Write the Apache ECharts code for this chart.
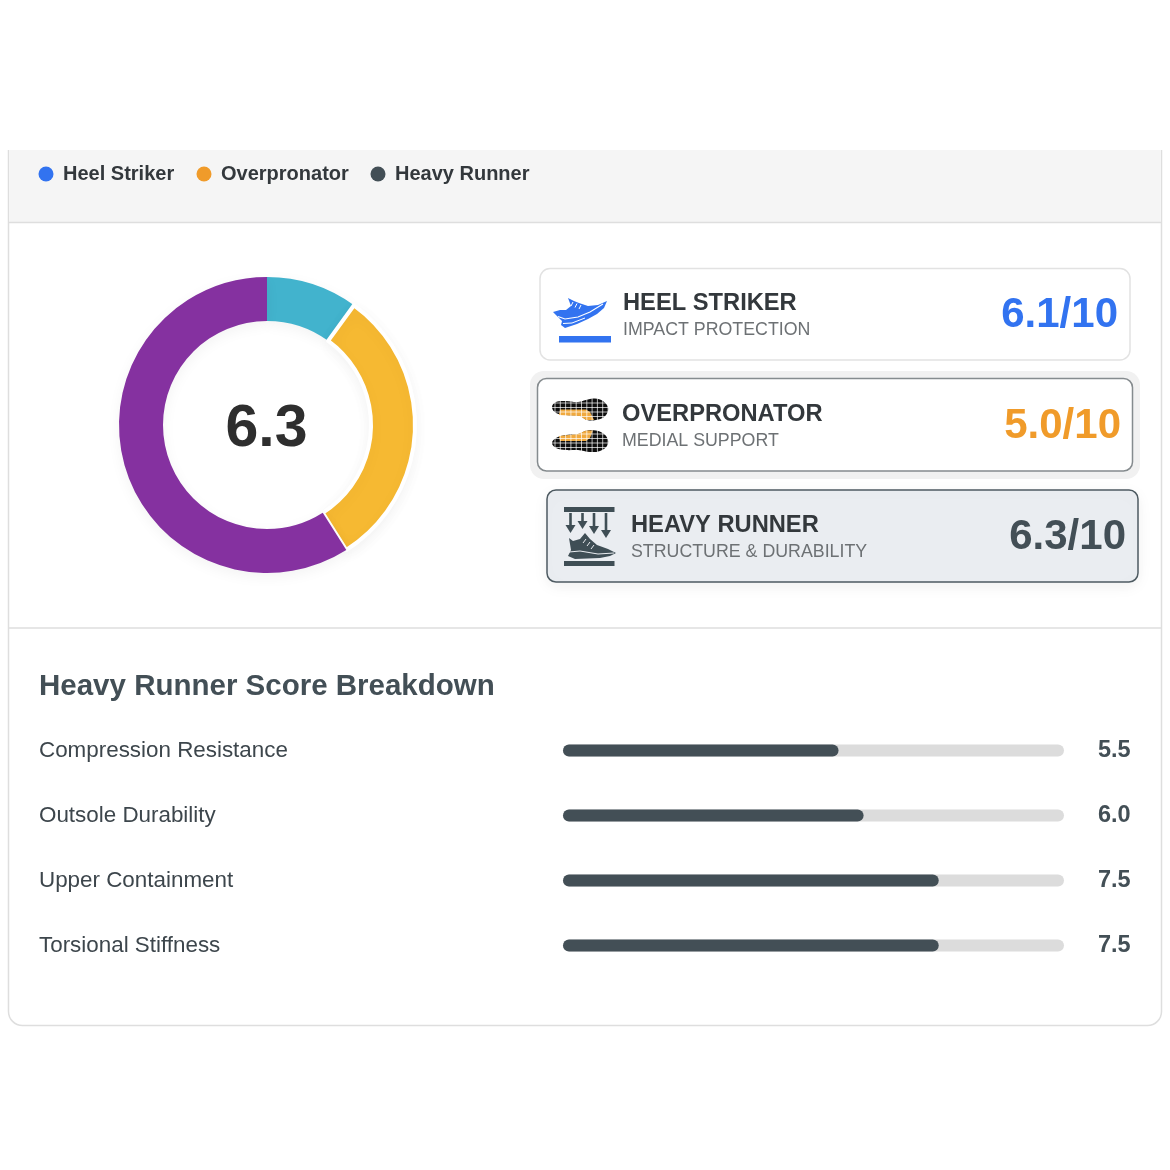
<!DOCTYPE html>
<html><head><meta charset="utf-8">
<style>html,body{margin:0;padding:0;background:#fff}#c{width:1170px;height:1170px}</style>
<script src="https://cdn.jsdelivr.net/npm/echarts@6/dist/echarts.min.js"></script>
</head><body><div id="c"></div>
<script>
const FONT = '"Liberation Sans", Arial, sans-serif';
// legend
const legendNames = ['Heel Striker', 'Overpronator', 'Heavy Runner'];
const legendColors = ['#3273f0', '#f09b2a', '#434f56'];
const legendDotX = [46, 204, 378];
const legendTextX = [63, 221, 395];
// donut
const donutCentreValue = '6.3';
const donutNames = ['Segment 1', 'Segment 2', 'Segment 3'];
const donutValues = [10, 31, 59];
const donutColors = ['#42b3cd', '#f6b932', '#8531a0'];
// score cards
const cardTitles = ['HEEL STRIKER', 'OVERPRONATOR', 'HEAVY RUNNER'];
const cardSubtitles = ['IMPACT PROTECTION', 'MEDIAL SUPPORT', 'STRUCTURE & DURABILITY'];
const cardScores = ['6.1/10', '5.0/10', '6.3/10'];
// breakdown
const breakdownTitle = 'Heavy Runner Score Breakdown';
const scoreCategories = ['Compression Resistance', 'Outsole Durability', 'Upper Containment', 'Torsional Stiffness'];
const scoreValues = [5.5, 6.0, 7.5, 7.5];
const scoreMax = 10;

const g = [];
const rect = (x, y, w, h, r, fill, stroke, lw, extra) => g.push(Object.assign({
  type: 'rect', shape: { x, y, width: w, height: h, r }, style: { fill, stroke, lineWidth: lw || 0 }, z: 1 }, extra || {}));
const text = (x, y, t, font, fill, align) => g.push({
  type: 'text', x, y, z: 5, style: { text: t, font, fill, textAlign: align || 'left', textVerticalAlign: 'middle' } });
const poly = (points, fill, smooth) => g.push({
  type: 'polygon', z: 4, shape: { points, smooth: smooth || 0 }, style: { fill } });
const pline = (points, stroke, lw) => g.push({
  type: 'polyline', z: 4, shape: { points }, style: { fill: 'none', stroke, lineWidth: lw } });
const line = (x1, y1, x2, y2, stroke, lw) => g.push({
  type: 'line', z: 4, shape: { x1, y1, x2, y2 }, style: { stroke, lineWidth: lw } });

// panel
rect(8.5, 130, 1153, 895.5, [0, 0, 14, 14], '#fff', '#dedede', 1.5);
rect(0, 120, 1170, 30, 0, '#fff', 'none', 0);
rect(9.5, 150, 1151, 72, 0, '#f5f5f5', 'none', 0);
line(9, 222.5, 1161, 222.5, '#dedede', 1.5);
line(9, 628, 1161, 628, '#dedede', 1.5);

// legend
legendNames.forEach((n, i) => {
  g.push({ type: 'circle', z: 4, shape: { cx: legendDotX[i], cy: 174, r: 7.5 }, style: { fill: legendColors[i] } });
  text(legendTextX[i], 174, n, 'bold 20px ' + FONT, '#33383c');
});

// cards
rect(540, 268.5, 590, 91.5, 10, '#fff', '#e2e2e2', 1.5);
rect(530, 371, 610, 108, 14, '#f1f1f1', 'none', 0);
rect(537.5, 378.5, 595, 92.5, 9, '#fff', '#858b8e', 1.5);
rect(547, 490, 591, 92, 9, '#eaedf1', '#4d5a61', 1.5, { style: { fill: '#eaedf1', stroke: '#4d5a61', lineWidth: 1.5, shadowBlur: 16, shadowColor: 'rgba(0,0,0,0.06)', shadowOffsetY: 4 } });

const tx = [623, 622, 631], ty = [303, 414, 525], sy = [330, 441, 552];
const scoreRight = [1118, 1121, 1126], scoreCol = ['#3273f0', '#f09b2a', '#434f56'];
cardTitles.forEach((t, i) => {
  text(tx[i], ty[i], t, 'bold 23.7px ' + FONT, '#33383c');
  text(tx[i], sy[i], cardSubtitles[i], '17.8px ' + FONT, '#6d7174');
  text(scoreRight[i], ty[i] + 12.5, cardScores[i], 'bold 42px ' + FONT, scoreCol[i], 'right');
});

// icon 1: blue shoe
const B = '#3273f0';
poly([[568,298],[574,301],[579,303],[588,306],[598,305],[607,301],[604,308],[597,314],[588,319],[577,324],[565,328],[561,325],[562,321],[558,317],[553,312],[560,310],[566,310],[571,306]], B);
pline([[558,316.5],[565,319],[578,317],[590,312],[603,304]], '#fff', 1.1);
pline([[563,323.5],[572,323],[585,318]], '#fff', 1);
pline([[573,302],[571,306]], '#fff', 1);
pline([[577,303.5],[575,307.5]], '#fff', 1);
pline([[581,305],[579,309]], '#fff', 1);
rect(559, 336, 52, 6.5, 0, B, 'none', 0, { z: 4 });

// icon 2: soles mesh
poly([[552,407],[556,402],[566,401],[578,402],[590,399],[600,399.5],[607,405],[608,411],[604,417],[596,420],[587,420],[580,416],[566,415],[556,413]], '#0e0e0e', 0.4);
poly([[552,443],[556,438],[566,435],[578,434],[587,430.5],[596,430.5],[604,434],[608,440],[607,446],[600,451],[590,452],[578,450],[566,450],[556,448]], '#0e0e0e', 0.4);
poly([[559,415],[560,409.5],[586,409.5],[590,412],[594,420],[586,420],[580,416]], '#f0a93e');
poly([[559,436],[560,441],[586,441],[590,438],[593,430.5],[586,430.5],[578,434]], '#f0a93e');
for (let x = 555; x < 608; x += 5.3) line(x, 396, x, 454, '#fff', 0.7);
[403, 407.5, 412, 416.5, 434, 438.5, 443, 447.5].forEach(y => line(550, y, 609, y, '#fff', 0.7));

// icon 3: weight on shoe
const D = '#3f4e55';
rect(564, 507, 50.5, 5, 0, D, 'none', 0, { z: 4 });
rect(564, 561, 50.5, 5, 0, D, 'none', 0, { z: 4 });
[[570.5, 533], [582.5, 529], [594, 534], [606, 538]].forEach(a => {
  line(a[0], 513, a[0], a[1] - 6, D, 2.6);
  poly([[a[0] - 5, a[1] - 8], [a[0] + 5, a[1] - 8], [a[0], a[1]]], D);
});
poly([[569,538],[573,541],[580,539],[585,533],[590,539],[597,545],[608,549],[616,553],[610,556],[600,558],[575,559],[568,556],[571,550]], D);
pline([[569,552],[580,551],[598,554],[614,553]], '#eaedf1', 1);
pline([[586,539],[583,543]], '#eaedf1', 1);
pline([[590,542],[587,546]], '#eaedf1', 1);
pline([[594,545],[591,549]], '#eaedf1', 1);

// donut centre
text(266.5, 430, donutCentreValue, 'bold 59px ' + FONT, '#2e2e2e', 'center');

// breakdown title
text(39, 687, breakdownTitle, 'bold 29.5px ' + FONT, '#434f56');

const chart = echarts.init(document.getElementById('c'), null, { renderer: 'canvas', width: 1170, height: 1170 });
chart.setOption({
  animation: false,
  backgroundColor: '#fff',
  textStyle: { fontFamily: FONT },
  graphic: { elements: g },
  grid: { left: 563, top: 718, width: 501, height: 260 },
  xAxis: { type: 'value', min: 0, max: scoreMax, show: false },
  yAxis: [
    { type: 'category', inverse: true, data: scoreCategories, z: 4,
      axisLine: { show: false }, axisTick: { show: false }, splitLine: { show: false },
      axisLabel: { align: 'left', margin: 524, fontSize: 22.4, padding: [3, 0, 0, 0], color: '#3d464c', fontFamily: FONT } },
    { type: 'category', inverse: true, position: 'right', data: scoreValues.map(v => v.toFixed(1)), z: 4,
      axisLine: { show: false }, axisTick: { show: false }, splitLine: { show: false },
      axisLabel: { align: 'left', margin: 34, fontSize: 23.5, fontWeight: 'bold', padding: [3, 0, 0, 0], color: '#434f56', fontFamily: FONT } }
  ],
  series: [
    { type: 'bar', data: scoreValues, barWidth: 12, xAxisIndex: 0, yAxisIndex: 0, z: 3,
      showBackground: true, backgroundStyle: { color: '#dcdcdc', borderRadius: 6 },
      itemStyle: { color: '#434f56', borderRadius: 6 }, silent: true },
    { type: 'pie', center: [267, 425], radius: [104, 148], startAngle: 90, clockwise: true,
      label: { show: false }, labelLine: { show: false }, silent: true, z: 3,
      data: donutValues.map((v, i) => ({
        name: donutNames[i], value: v,
        itemStyle: {
          color: donutColors[i],
          borderColor: i === 1 ? '#fff' : 'transparent', borderWidth: i === 1 ? 4 : 0,
          shadowBlur: 14, shadowColor: 'rgba(0,0,0,0.05)', shadowOffsetY: 4
        }
      })) }
  ]
});
</script></body></html>
